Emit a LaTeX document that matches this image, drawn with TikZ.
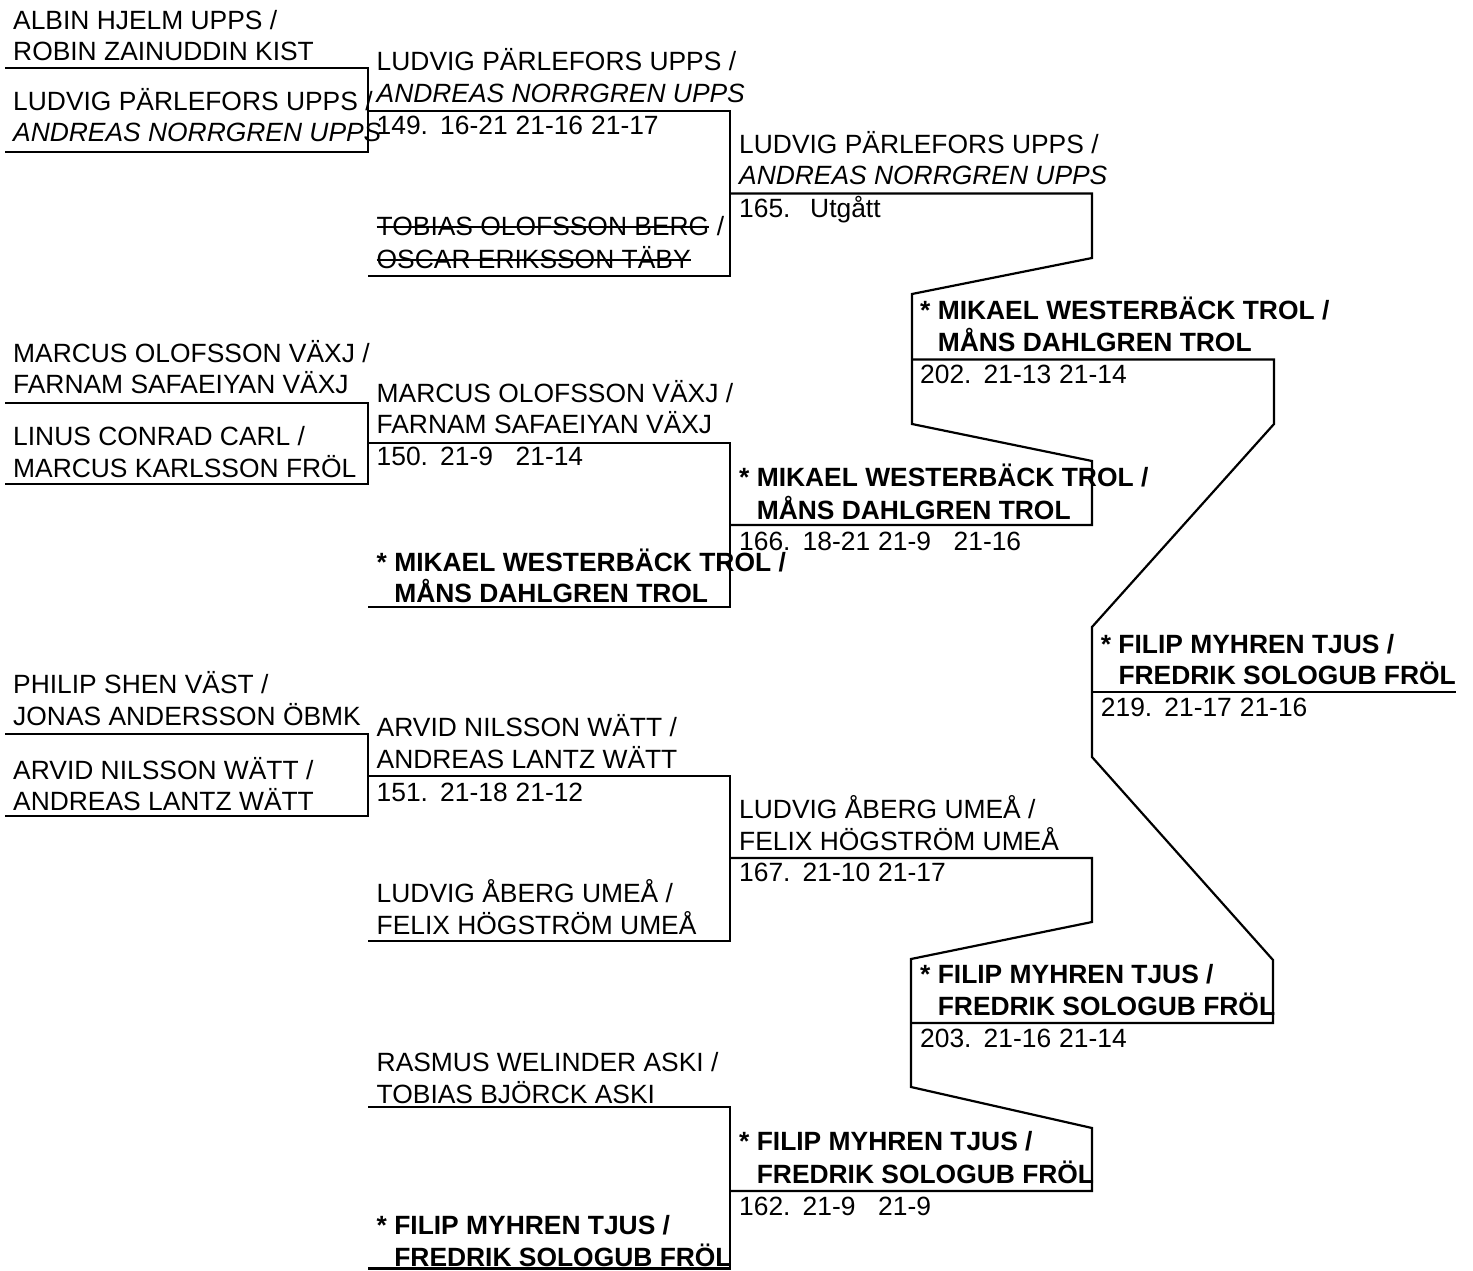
\documentclass[tikz,border=0pt]{standalone}
\usepackage{fontspec}
\setmainfont{Liberation Sans}
\newcommand\fsz{\fontsize{26.4}{32}\selectfont}
\newcommand\scorerow[4]{\makebox[63.5pt][l]{#1}\makebox[75.5pt][l]{#2}\makebox[75.5pt][l]{#3}#4}
\newcommand\indnt{\hphantom{*\ }}
\begin{document}
\begin{tikzpicture}[x=1pt,y=-1pt,
  t/.style={anchor=base west, inner sep=0pt, font=\fsz},
  tb/.style={t, font=\fsz\bfseries},
  ti/.style={t, font=\fsz\itshape},
  br/.style={draw=black, line width=2.2pt, line join=miter},
  strike/.style={draw=black, line width=2pt}]
\useasboundingbox (0,0) rectangle (1473,1271);

% ---- brackets, round 1
\draw[br] (5,68) -| (368,152) -- (5,152);
\draw[br] (5,403) -| (368,484) -- (5,484);
\draw[br] (5,734) -| (368,816) -- (5,816);
% ---- round 2
\draw[br] (368,111) -| (730,276) -- (368,276);
\draw[br] (368,443) -| (730,607) -- (368,607);
\draw[br] (368,776) -| (730,941) -- (368,941);
\draw[br] (368,1107) -| (730,1268.5) -- (368,1268.5);
% ---- round 3 / 4 joins
\draw[br] (730,193.5) -- (1092,193.5) -- (1092,258) -- (912,294) -- (912,424) -- (1092,461) -- (1092,525) -- (730,525);
\draw[br] (730,858) -- (1092,858) -- (1092,922) -- (911,959) -- (911,1087) -- (1092,1128) -- (1092,1191) -- (730,1191);
\draw[br] (912,359.5) -- (1274,359.5) -- (1274,424) -- (1092,627) -- (1092,757) -- (1273,960) -- (1273,1023) -- (911,1023);
\draw[br] (1092,692) -- (1456,692);

% ---- column 1
\node[t] (a1) at (13,29.5) {ALBIN HJELM UPPS /};
\node[t] (a2) at (13,61) {ROBIN ZAINUDDIN KIST};
\node[t] (a3) at (13,111) {LUDVIG PÄRLEFORS UPPS /};
\node[ti] (a4) at (13,142) {ANDREAS NORRGREN UPPS};
\node[t] (b1) at (13,362.7) {MARCUS OLOFSSON VÄXJ /};
\node[t] (b2) at (13,393.5) {FARNAM SAFAEIYAN VÄXJ};
\node[t] (b3) at (13,445.5) {LINUS CONRAD CARL /};
\node[t] (b4) at (13,477) {MARCUS KARLSSON FRÖL};
\node[t] (c1) at (13,693.5) {PHILIP SHEN VÄST /};
\node[t] (c2) at (13,725.5) {JONAS ANDERSSON ÖBMK};
\node[t] (c3) at (13,779.5) {ARVID NILSSON WÄTT /};
\node[t] (c4) at (13,810.5) {ANDREAS LANTZ WÄTT};

% ---- column 2
\node[t] (d1) at (376.5,70.7) {LUDVIG PÄRLEFORS UPPS /};
\node[ti] (d2) at (376.5,102.7) {ANDREAS NORRGREN UPPS};
\node[t] (d3) at (376.5,135) {\scorerow{149.}{16-21}{21-16}{21-17}};
\node[t] (d4) at (376.5,235) {TOBIAS OLOFSSON BERG};
\node[t] (d4s) at (d4.base east) {\ /};
\node[t] (d5) at (376.5,268) {OSCAR ERIKSSON TÄBY};
\draw[strike] ([yshift=8.3pt]d4.base west) -- ([yshift=8.3pt]d4.base east);
\draw[strike] ([yshift=8.3pt]d5.base west) -- ([yshift=8.3pt]d5.base east);

\node[t] (e1) at (376.5,402.7) {MARCUS OLOFSSON VÄXJ /};
\node[t] (e2) at (376.5,433.5) {FARNAM SAFAEIYAN VÄXJ};
\node[t] (e3) at (376.5,465) {\scorerow{150.}{21-9}{21-14}{}};
\node[tb] (e4) at (376.5,571) {* MIKAEL WESTERBÄCK TROL /};
\node[tb] (e5) at (376.5,602.5) {\indnt MÅNS DAHLGREN TROL};

\node[t] (f1) at (376.5,736.5) {ARVID NILSSON WÄTT /};
\node[t] (f2) at (376.5,768.5) {ANDREAS LANTZ WÄTT};
\node[t] (f3) at (376.5,801) {\scorerow{151.}{21-18}{21-12}{}};
\node[t] (f4) at (376.5,902) {LUDVIG ÅBERG UMEÅ /};
\node[t] (f5) at (376.5,934) {FELIX HÖGSTRÖM UMEÅ};

\node[t] (g1) at (376.5,1071) {RASMUS WELINDER ASKI /};
\node[t] (g2) at (376.5,1103) {TOBIAS BJÖRCK ASKI};
\node[tb] (g4) at (376.5,1234.5) {* FILIP MYHREN TJUS /};
\node[tb] (g5) at (376.5,1266.3) {\indnt FREDRIK SOLOGUB FRÖL};

% ---- column 3
\node[t] (h1) at (739,153.3) {LUDVIG PÄRLEFORS UPPS /};
\node[ti] (h2) at (739,185) {ANDREAS NORRGREN UPPS};
\node[t] (h3) at (739,217.3) {\makebox[71pt][l]{165.}Utgått};
\node[tb] (i1) at (739,486.7) {* MIKAEL WESTERBÄCK TROL /};
\node[tb] (i2) at (739,519) {\indnt MÅNS DAHLGREN TROL};
\node[t] (i3) at (739,550.7) {\scorerow{166.}{18-21}{21-9}{21-16}};
\node[t] (j1) at (739,818.3) {LUDVIG ÅBERG UMEÅ /};
\node[t] (j2) at (739,850) {FELIX HÖGSTRÖM UMEÅ};
\node[t] (j3) at (739,881.7) {\scorerow{167.}{21-10}{21-17}{}};
\node[tb] (k1) at (739,1150.7) {* FILIP MYHREN TJUS /};
\node[tb] (k2) at (739,1183.3) {\indnt FREDRIK SOLOGUB FRÖL};
\node[t] (k3) at (739,1215) {\scorerow{162.}{21-9}{21-9}{}};

% ---- column 4
\node[tb] (l1) at (920,319.3) {* MIKAEL WESTERBÄCK TROL /};
\node[tb] (l2) at (920,351) {\indnt MÅNS DAHLGREN TROL};
\node[t] (l3) at (920,383.3) {\scorerow{202.}{21-13}{21-14}{}};
\node[tb] (m1) at (920,983.3) {* FILIP MYHREN TJUS /};
\node[tb] (m2) at (920,1015.7) {\indnt FREDRIK SOLOGUB FRÖL};
\node[t] (m3) at (920,1047.3) {\scorerow{203.}{21-16}{21-14}{}};

% ---- column 5
\node[tb] (n1) at (1100.7,653.3) {* FILIP MYHREN TJUS /};
\node[tb] (n2) at (1100.7,684.3) {\indnt FREDRIK SOLOGUB FRÖL};
\node[t] (n3) at (1100.7,716.7) {\scorerow{219.}{21-17}{21-16}{}};
\end{tikzpicture}
\end{document}
